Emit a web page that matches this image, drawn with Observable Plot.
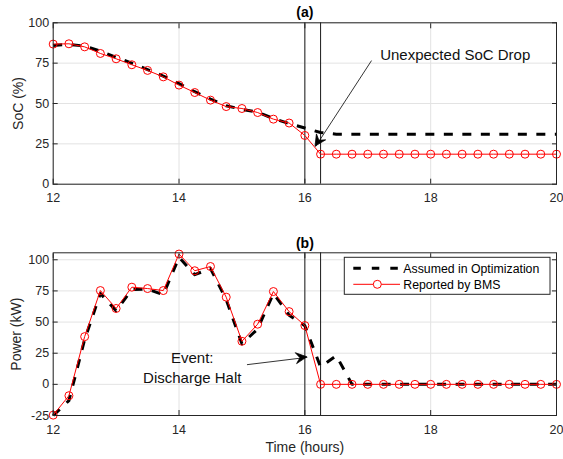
<!DOCTYPE html>
<html><head><meta charset="utf-8">
<script src="https://cdn.jsdelivr.net/npm/d3@7"></script>
<script src="https://cdn.jsdelivr.net/npm/@observablehq/plot@0.6"></script>
<style>
body{margin:0;background:#fff;}
#chart{width:563px;height:459px;position:relative;background:#fff;}
#chart svg{display:block;overflow:visible}
</style></head><body><div id="chart"></div>
<script>
// ---- data ----
const time = [12, 12.25, 12.5, 12.75, 13, 13.25, 13.5, 13.75, 14, 14.25, 14.5, 14.75, 15, 15.25, 15.5, 15.75, 16,
  16.25, 16.5, 16.75, 17, 17.25, 17.5, 17.75, 18, 18.25, 18.5, 18.75, 19, 19.25, 19.5, 19.75, 20];
const socReported = [86.8, 87.0, 85.1, 81.0, 77.7, 74.0, 70.5, 66.5, 61.4, 56.8, 52.1, 48.1, 46.9, 44.4, 40.3, 37.9, 30.2,
  18.6, 18.6, 18.6, 18.6, 18.6, 18.6, 18.6, 18.6, 18.6, 18.6, 18.6, 18.6, 18.6, 18.6, 18.6, 18.6];
const socAssumed = [86.0, 86.6, 85.6, 82.4, 78.6, 75.0, 71.0, 67.0, 62.3, 57.3, 52.7, 48.6, 46.4, 44.6, 40.7, 37.6, 34.8,
  32.0, 31.0, 31.0, 31.0, 31.0, 31.0, 31.0, 31.0, 31.0, 31.0, 31.0, 31.0, 31.0, 31.0, 31.0, 31.0];
const powerReported = [-24.7, -9.1, 38.3, 75.3, 60.9, 78.0, 76.9, 75.3, 104.6, 91.2, 94.6, 70.0, 34.6, 48.3, 74.5, 58.4, 47.2,
  0, 0, 0, 0, 0, 0, 0, 0, 0, 0, 0, 0, 0, 0, 0, 0];
const powerAssumed = [-25.0, -13.0, 36.0, 73.0, 59.0, 76.0, 76.5, 72.0, 102.0, 88.0, 93.0, 68.0, 32.5, 44.5, 73.0, 55.5, 47.0,
  14.0, 23.0, 0, 0, 0, 0, 0, 0, 0, 0, 0, 0, 0, 0, 0, 0];
const eventTimes = [16, 16.25];
const xTicks = [12, 14, 16, 18, 20];
const socTicks = [0, 25, 50, 75, 100];
const powerTicks = [-25, 0, 25, 50, 75, 100];
const seriesNames = ["Assumed in Optimization", "Reported by BMS"];
const panelTitles = ["(a)", "(b)"];
const axisLabels = ["SoC (%)", "Power (kW)", "Time (hours)"];
// annotations: text position and arrow tail -> tip (data units)
const annTop = {text: "Unexpected SoC Drop", x: 18.39, y: 81, x1: 17.06, y1: 76.6, x2: 16.17, y2: 23.3};
const annBottom = {text: "Event:\nDischarge Halt", x: 14.21, y: 14.4, x1: 15.08, y1: 15.8, x2: 16.04, y2: 21.7};

// ---- build ----
const font = "'Liberation Sans', Arial, Helvetica, sans-serif";
const ink = "#262626";
const socRows = time.map((t, i) => ({t, rep: socReported[i], asm: socAssumed[i]}));
const powRows = time.map((t, i) => ({t, rep: powerReported[i], asm: powerAssumed[i]}));
const fmt = d => d < 0 ? "-" + (-d) : String(d);

function panel(rows, yDomain, yTicks, opts) {
  return Plot.plot({
    width: 563, height: opts.height,
    marginTop: opts.marginTop, marginBottom: opts.marginBottom, marginLeft: 52.7, marginRight: 7,
    style: {fontFamily: font, fontSize: "12.5px", color: ink, background: "white", overflow: "visible"},
    x: {domain: [12, 20]},
    y: {domain: yDomain},
    marks: [
      Plot.ruleX(xTicks, {stroke: "#e3e3e3", strokeWidth: 1}),
      Plot.ruleY(yTicks, {stroke: "#e3e3e3", strokeWidth: 1}),
      Plot.ruleX(eventTimes, {stroke: "#1a1a1a", strokeWidth: 1}),
      Plot.line(rows, {x: "t", y: "asm", stroke: "black", strokeWidth: 3, strokeDasharray: "9,9.5", strokeLinecap: "butt"}),
      Plot.line(rows, {x: "t", y: "rep", stroke: "#ff0000", strokeWidth: 1}),
      Plot.dot(rows, {x: "t", y: "rep", r: 4, stroke: "#ff0000", fill: "none", strokeWidth: 1}),
      Plot.link([opts.ann], {x1: "x1", y1: "y1", x2: "x2", y2: "y2", stroke: "black", strokeWidth: 0.8}),
      Plot.text([opts.ann], {x: "x", y: "y", text: "text", fontSize: 15, fill: "#111", lineHeight: 1.33, textAnchor: "middle", lineAnchor: "middle"}),
      Plot.frame({stroke: ink, strokeWidth: 1}),
      Plot.axisX(xTicks, {anchor: "bottom", tickSize: -5, tickPadding: 14.4, label: null}),
      Plot.axisX(xTicks, {anchor: "top", tickSize: -5, tickFormat: () => "", label: null}),
      Plot.axisY(yTicks, {anchor: "left", tickSize: -5, tickPadding: 9, tickFormat: fmt, label: null}),
      Plot.axisY(yTicks, {anchor: "right", tickSize: -5, tickFormat: () => "", label: null}),
      Plot.text([opts.title], {frameAnchor: "top", dy: opts.titleDy, text: d => d, fontSize: 14, fontWeight: "bold", fill: "#000", lineAnchor: "middle"}),
      Plot.text([opts.ylabel], {frameAnchor: "left", dx: opts.ylabelDx, text: d => d, rotate: -90, fontSize: 14, fill: ink, textAnchor: "middle", lineAnchor: "middle"}),
      ...(opts.xlabel ? [Plot.text([opts.xlabel], {frameAnchor: "bottom", dy: 31.7, text: d => d, fontSize: 14, fill: ink, lineAnchor: "middle"})] : [])
    ]
  });
}

function arrowHead(plot, ann) {
  const sx = plot.scale("x"), sy = plot.scale("y");
  const tip = [sx.apply(ann.x2), sy.apply(ann.y2)];
  const tail = [sx.apply(ann.x1), sy.apply(ann.y1)];
  const dx = tip[0] - tail[0], dy = tip[1] - tail[1];
  const len = Math.hypot(dx, dy);
  const u = [dx / len, dy / len], n = [-u[1], u[0]];
  const L = 11, H = 5.5, N = 7;
  const p = (a, b) => [tip[0] - a * u[0] + b * n[0], tip[1] - a * u[1] + b * n[1]];
  const pts = [tip, p(L, H), p(N, 0), p(L, -H)];
  d3.select(plot).append("path")
    .attr("d", "M" + pts.map(q => q.join(",")).join("L") + "Z")
    .attr("fill", "black").attr("stroke", "black").attr("stroke-width", 0.8).attr("stroke-linejoin", "miter");
}

const topPlot = panel(socRows, [0, 100], socTicks, {
  height: 215, marginTop: 22.3, marginBottom: 31.3, ann: annTop,
  title: panelTitles[0], titleDy: -10.3, ylabel: axisLabels[0], ylabelDx: -34.2
});
const bottomPlot = panel(powRows, [-25, 105.6], powerTicks, {
  height: 244, marginTop: 37.3, marginBottom: 44, ann: annBottom,
  title: panelTitles[1], titleDy: -9, ylabel: axisLabels[1], ylabelDx: -36.2, xlabel: axisLabels[2]
});
arrowHead(topPlot, annTop);
arrowHead(bottomPlot, annBottom);

// legend inside bottom panel (top-right)
const lg = d3.select(bottomPlot).append("g").attr("font-family", font).attr("font-size", "12.3px").attr("text-anchor", "start");
lg.append("rect").attr("x", 344.3).attr("y", 42.3).attr("width", 205.7).attr("height", 37)
  .attr("fill", "white").attr("stroke", ink).attr("stroke-width", 1);
lg.append("line").attr("x1", 353.3).attr("x2", 400).attr("y1", 53.3).attr("y2", 53.3)
  .attr("stroke", "black").attr("stroke-width", 3).attr("stroke-dasharray", "7.5,11");
lg.append("line").attr("x1", 353.3).attr("x2", 400).attr("y1", 69.3).attr("y2", 69.3)
  .attr("stroke", "#ff0000").attr("stroke-width", 1);
lg.append("circle").attr("cx", 377.3).attr("cy", 69.3).attr("r", 4).attr("fill", "white").attr("stroke", "#ff0000");
seriesNames.forEach((s, i) => {
  lg.append("text").attr("x", 403.3).attr("y", 53.3 + 16 * i).attr("dy", "0.35em")
    .attr("text-anchor", "start").attr("fill", "#000").text(s);
});

document.getElementById("chart").append(topPlot, bottomPlot);
</script>
</body></html>
